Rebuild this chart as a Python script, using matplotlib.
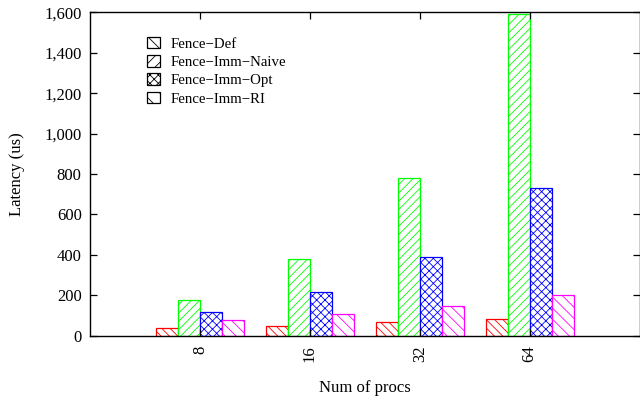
import matplotlib
matplotlib.use("Agg")
import matplotlib.pyplot as plt
from matplotlib.patches import Patch
from matplotlib.transforms import ScaledTranslation
from matplotlib.ticker import FuncFormatter
import numpy as np

plt.rcParams['font.family'] = ['Liberation Serif', 'DejaVu Serif']
plt.rcParams['hatch.linewidth'] = 0.6

procs = ["8", "16", "32", "64"]
series = ["Fence\u2212Def", "Fence\u2212Imm\u2212Naive", "Fence\u2212Imm\u2212Opt", "Fence\u2212Imm\u2212RI"]
fence_def = [36, 49, 66, 81]
fence_imm_naive = [175, 379, 782, 1590]
fence_imm_opt = [116, 215, 388, 732]
fence_imm_ri = [78, 107, 148, 201]

values = [fence_def, fence_imm_naive, fence_imm_opt, fence_imm_ri]
colors = ["#ff0000", "#00ff00", "#0000ff", "#ff00ff"]
hatches = ["\\\\\\\\", "////", "xxxx", "\\\\\\"]
legend_hatches = ["\\\\\\", "///", "xxxx", "\\\\"]

fig = plt.figure(figsize=(6.4, 3.98), dpi=100)
ax = fig.add_axes([90/640, 62.3/398, 549.5/640, 323.4/398])

x = np.arange(len(procs))
w = 0.2
for i, (vals, c, h) in enumerate(zip(values, colors, hatches)):
    ax.bar(x + (i - 1.5) * w, vals, width=w, facecolor='white', edgecolor=c,
           hatch=h, linewidth=0.9)

ax.set_xlim(-1, 4)
ax.set_ylim(0, 1600)
ax.set_yticks(np.arange(0, 1601, 200))
ax.yaxis.set_major_formatter(FuncFormatter(lambda v, p: f"{int(v):,}"))
ax.set_xticks(x)
ax.set_xticklabels(procs, rotation=90, va='top', ha='center')
for lab in ax.get_xticklabels():
    lab.set_transform(lab.get_transform() + ScaledTranslation(-2/100, 0, fig.dpi_scale_trans))

ax.tick_params(axis='both', direction='in', length=5, width=0.9, labelsize=12,
               top=True, right=True, colors='black')
ax.tick_params(axis='y', pad=6)
ax.tick_params(axis='x', pad=7)
for s in ax.spines.values():
    s.set_linewidth(1.0)

ax.set_xlabel("Num of procs", fontsize=12, labelpad=13)
ax.set_ylabel("Latency (us)", fontsize=12, labelpad=14)

handles = [Patch(facecolor='white', edgecolor='black', hatch=h, linewidth=0.9)
           for h in legend_hatches]
ax.legend(handles, series, loc='upper left', bbox_to_anchor=(0.103, 0.924),
          frameon=False, fontsize=10.7, handlelength=0.87, handleheight=0.8,
          handletextpad=0.75, labelspacing=0.3, borderaxespad=0, borderpad=0)

fig.savefig("out.png", dpi=100)
